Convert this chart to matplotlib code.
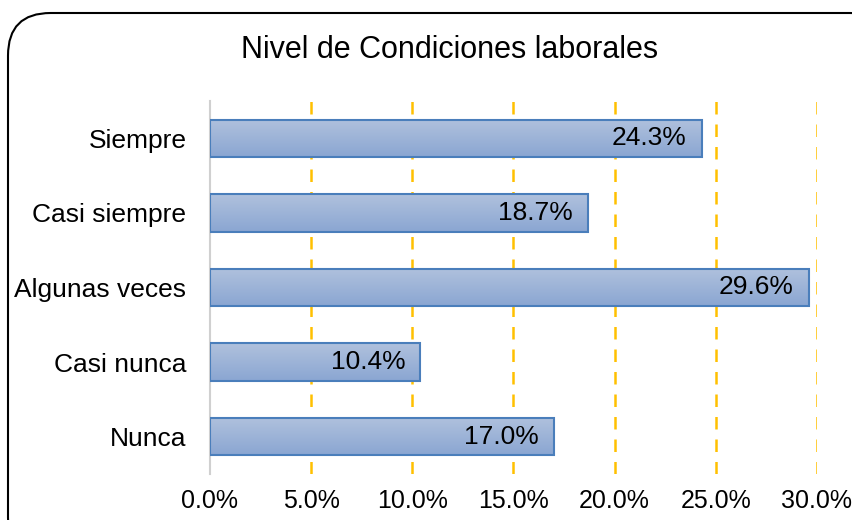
import matplotlib
matplotlib.use("Agg")
import matplotlib.pyplot as plt
import numpy as np
from matplotlib.patches import FancyBboxPatch, Rectangle
from matplotlib.ticker import FuncFormatter
from matplotlib.colors import LinearSegmentedColormap

categories = ["Siempre", "Casi siempre", "Algunas veces", "Casi nunca", "Nunca"]
values = [24.3, 18.7, 29.6, 10.4, 17.0]
xticks = [0, 5, 10, 15, 20, 25, 30]

plt.rcParams['font.family'] = ['Liberation Sans', 'DejaVu Sans']

fig = plt.figure(figsize=(8.53, 5.2), dpi=100)
W, H = 853, 520
# rounded border
border = FancyBboxPatch((8 / W, -40 / H), (W + 40 - 8) / W, (H + 40 - 13) / H,
                        boxstyle="round,pad=0,rounding_size=0.05",
                        transform=fig.transFigure, facecolor='white',
                        edgecolor='black', linewidth=1.5, mutation_aspect=W / H,
                        zorder=-5)
fig.patches.append(border)

ax = fig.add_axes([210 / W, (H - 474) / H, (817 - 210) / W, (474 - 101) / H])
ax.set_facecolor('none')
ax.set_xlim(0, 30)
n = len(categories)
ax.set_ylim(n - 0.5, -0.5)

grad = np.linspace(0, 1, 64).reshape(-1, 1)
cmap = LinearSegmentedColormap.from_list('g', ['#b0c1dd', '#8aa6d2'])
bh = 0.5
for i, v in enumerate(values):
    im = ax.imshow(grad, extent=(0, v, i + bh / 2, i - bh / 2), aspect='auto',
                   cmap=cmap, zorder=2, origin='upper')
    rect = Rectangle((0, i - bh / 2), v, bh, facecolor='none',
                     edgecolor='#4a7ebb', linewidth=1.5, zorder=3)
    ax.add_patch(rect)
    im.set_clip_path(rect)
    ax.annotate(f"{v:.1f}%", (v, i), xytext=(-11, 0), textcoords='offset points',
                ha='right', va='center', fontsize=19, color='black', zorder=4)

ax.set_yticks(range(n))
ax.set_yticklabels(categories, fontsize=19)
ax.set_xticks(xticks)
ax.xaxis.set_major_formatter(FuncFormatter(lambda x, p: f"{x:.1f}%"))
ax.tick_params(axis='x', labelsize=18, length=0, pad=11)
ax.tick_params(axis='y', length=0, pad=17)
for s in ['top', 'right', 'bottom']:
    ax.spines[s].set_visible(False)
ax.spines['left'].set_color('#d0d0d0')
ax.spines['left'].set_linewidth(1.5)
ax.spines['left'].set_zorder(1.5)
for x in xticks[1:]:
    ax.axvline(x, color='#ffc000', linestyle=(0, (5, 4)), linewidth=1.8, zorder=1)

fig.text(450 / W, 1 - 50 / H, "Nivel de Condiciones laborales", ha='center',
         va='center', fontsize=22)

fig.savefig("out.png", dpi=100)
